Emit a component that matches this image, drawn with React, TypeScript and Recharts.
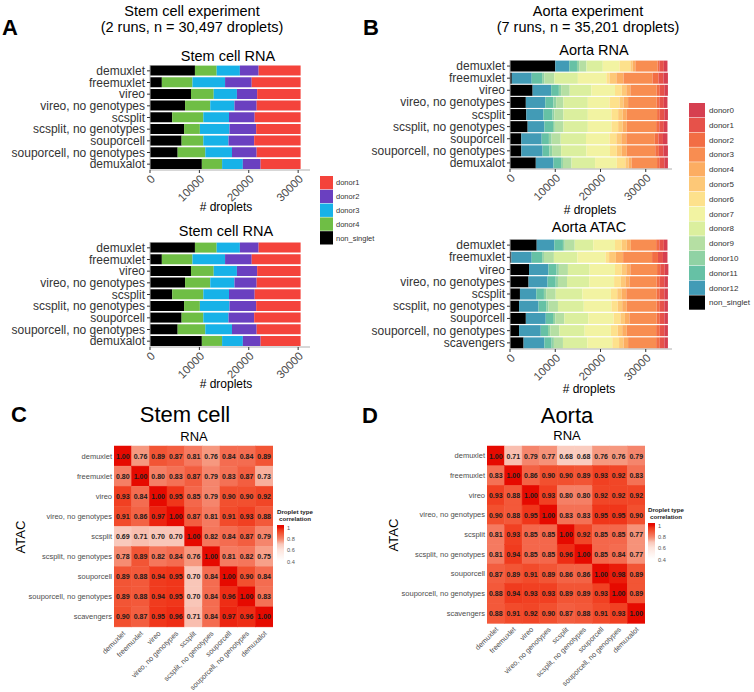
import React from 'react';
import { BarChart, Bar, XAxis, YAxis } from 'recharts';

const FONT = '"Liberation Sans", Arial, Helvetica, sans-serif';

// ---------- Panel A : stem cell experiment ----------
const stemMethods = ['demuxlet', 'freemuxlet', 'vireo', 'vireo, no genotypes', 'scsplit', 'scsplit, no genotypes', 'souporcell', 'souporcell, no genotypes', 'demuxalot'];
const stemNonSinglet = [9100, 2400, 8300, 7100, 4500, 6900, 6400, 5600, 10500];
const stemDonor4 = [4400, 6200, 4600, 5100, 6300, 3200, 4400, 5600, 4100];
const stemDonor3 = [4700, 6600, 4700, 4900, 5200, 6000, 5100, 5400, 4200];
const stemDonor2 = [3800, 5400, 4100, 4500, 5200, 5400, 5200, 5000, 3600];
const stemDonor1 = [8500, 9900, 8800, 8900, 9300, 9000, 9400, 8900, 8100];

// ---------- Panel B : aorta experiment ----------
const aortaRnaMethods = ['demuxlet', 'freemuxlet', 'vireo', 'vireo, no genotypes', 'scsplit', 'scsplit, no genotypes', 'souporcell', 'souporcell, no genotypes', 'demuxalot'];
const aortaAtacMethods = ['demuxlet', 'freemuxlet', 'vireo', 'vireo, no genotypes', 'scsplit', 'scsplit, no genotypes', 'souporcell', 'souporcell, no genotypes', 'scavengers'];

const rnaNonSinglet = [10000, 400, 5000, 3500, 3600, 3900, 2500, 2500, 5700];
const rnaDonor12 = [3100, 4400, 4100, 4300, 3800, 3700, 4500, 4700, 3900];
const rnaDonor11 = [1700, 2300, 1700, 1800, 2000, 1900, 1600, 1500, 1700];
const rnaDonor10 = [500, 500, 500, 600, 400, 400, 600, 600, 400];
const rnaDonor9 = [1600, 2200, 1900, 1600, 2000, 1900, 2000, 2000, 1900];
const rnaDonor8 = [3600, 5200, 4800, 5400, 5400, 5400, 5600, 5600, 5200];
const rnaDonor7 = [3700, 6300, 5200, 4800, 5200, 5200, 5200, 5200, 4800];
const rnaDonor6 = [2400, 700, 1500, 2200, 1500, 1500, 1500, 1500, 1900];
const rnaDonor5 = [500, 1500, 1000, 900, 1000, 1000, 1100, 1100, 700];
const rnaDonor4 = [600, 1600, 900, 1000, 900, 900, 1100, 1100, 700];
const rnaDonor3 = [4900, 6400, 5800, 6300, 6700, 6500, 6300, 6300, 5600];
const rnaDonor2 = [400, 1300, 700, 600, 600, 700, 800, 800, 600];
const rnaDonor1 = [1000, 1100, 1000, 1000, 1000, 1000, 1000, 1000, 1000];
const rnaDonor0 = [800, 1000, 800, 800, 800, 800, 1000, 1000, 800];

const atacNonSinglet = [5900, 300, 4200, 4100, 2200, 2000, 3500, 2000, 3000];
const atacDonor12 = [3900, 4500, 4300, 4200, 3600, 4300, 4400, 4800, 4600];
const atacDonor11 = [1900, 2300, 1800, 1800, 1700, 1700, 1600, 1600, 1600];
const atacDonor10 = [400, 400, 500, 500, 500, 500, 500, 500, 500];
const atacDonor9 = [2200, 2200, 2000, 2000, 2100, 2100, 2000, 2000, 2000];
const atacDonor8 = [4100, 5200, 4800, 4900, 5900, 5700, 5300, 5600, 5400];
const atacDonor7 = [4800, 6200, 5600, 5500, 6300, 6100, 5600, 5800, 5500];
const atacDonor6 = [1500, 800, 1500, 1500, 1400, 1400, 1500, 1500, 1500];
const atacDonor5 = [1100, 1500, 1000, 1000, 1000, 1000, 1000, 1000, 1000];
const atacDonor4 = [900, 1600, 900, 900, 1000, 1000, 1000, 1000, 1000];
const atacDonor3 = [5600, 6400, 5900, 6000, 6700, 6600, 6000, 6500, 6200];
const atacDonor2 = [700, 1300, 700, 700, 700, 700, 700, 800, 800];
const atacDonor1 = [1000, 1100, 1000, 1000, 1000, 1000, 1000, 1000, 1000];
const atacDonor0 = [800, 1000, 800, 800, 800, 800, 800, 800, 800];

const dropletTicks = [0, 10000, 20000, 30000];

// ---------- Panels C / D : correlation heatmaps ----------
const heatRows = ['demuxlet', 'freemuxlet', 'vireo', 'vireo, no genotypes', 'scsplit', 'scsplit, no genotypes', 'souporcell', 'souporcell, no genotypes', 'scavengers'];
const heatCols = ['demuxlet', 'freemuxlet', 'vireo', 'vireo, no genotypes', 'scsplit', 'scsplit, no genotypes', 'souporcell', 'souporcell, no genotypes', 'demuxalot'];
const stemCorr = [
  [1.0, 0.76, 0.89, 0.87, 0.81, 0.76, 0.84, 0.84, 0.89],
  [0.8, 1.0, 0.8, 0.83, 0.87, 0.79, 0.83, 0.87, 0.73],
  [0.93, 0.84, 1.0, 0.95, 0.85, 0.79, 0.9, 0.9, 0.92],
  [0.91, 0.86, 0.97, 1.0, 0.87, 0.81, 0.91, 0.93, 0.88],
  [0.69, 0.71, 0.7, 0.7, 1.0, 0.82, 0.84, 0.87, 0.79],
  [0.78, 0.89, 0.82, 0.84, 0.76, 1.0, 0.81, 0.82, 0.75],
  [0.89, 0.88, 0.94, 0.95, 0.7, 0.84, 1.0, 0.9, 0.84],
  [0.89, 0.88, 0.94, 0.95, 0.7, 0.84, 0.96, 1.0, 0.83],
  [0.9, 0.87, 0.95, 0.96, 0.71, 0.84, 0.97, 0.96, 1.0],
];
const aortaCorr = [
  [1.0, 0.71, 0.79, 0.77, 0.68, 0.68, 0.76, 0.76, 0.79],
  [0.83, 1.0, 0.86, 0.9, 0.9, 0.89, 0.93, 0.92, 0.83],
  [0.93, 0.88, 1.0, 0.93, 0.8, 0.8, 0.92, 0.92, 0.92],
  [0.9, 0.88, 0.95, 1.0, 0.83, 0.83, 0.95, 0.95, 0.9],
  [0.81, 0.93, 0.85, 0.85, 1.0, 0.92, 0.85, 0.85, 0.77],
  [0.81, 0.94, 0.85, 0.85, 0.96, 1.0, 0.85, 0.84, 0.77],
  [0.87, 0.89, 0.91, 0.89, 0.86, 0.86, 1.0, 0.98, 0.89],
  [0.88, 0.94, 0.93, 0.93, 0.89, 0.89, 0.93, 1.0, 0.89],
  [0.88, 0.91, 0.92, 0.9, 0.87, 0.88, 0.91, 0.93, 1.0],
];
const corrLegendTicks = [1, 0.8, 0.6, 0.4];

// ---------- styles ----------
type Series = { key: string; color: string; values: number[] };

const stemSeries: Series[] = [
  { key: 'non_singlet', color: '#000000', values: stemNonSinglet },
  { key: 'donor4', color: '#6fbe45', values: stemDonor4 },
  { key: 'donor3', color: '#17b2e8', values: stemDonor3 },
  { key: 'donor2', color: '#6a40c0', values: stemDonor2 },
  { key: 'donor1', color: '#f4433b', values: stemDonor1 },
];

const aortaColors: Record<string, string> = {
  donor0: '#d63f50', donor1: '#e6524a', donor2: '#f26d44', donor3: '#f88d51', donor4: '#fcad62',
  donor5: '#fdc877', donor6: '#fde18c', donor7: '#f2f3a2', donor8: '#dbef9e', donor9: '#b5dfa3',
  donor10: '#90d2a4', donor11: '#66c1a5', donor12: '#429bb6', non_singlet: '#000000',
};

const rnaSeries: Series[] = [
  { key: 'non_singlet', values: rnaNonSinglet }, { key: 'donor12', values: rnaDonor12 },
  { key: 'donor11', values: rnaDonor11 }, { key: 'donor10', values: rnaDonor10 },
  { key: 'donor9', values: rnaDonor9 }, { key: 'donor8', values: rnaDonor8 },
  { key: 'donor7', values: rnaDonor7 }, { key: 'donor6', values: rnaDonor6 },
  { key: 'donor5', values: rnaDonor5 }, { key: 'donor4', values: rnaDonor4 },
  { key: 'donor3', values: rnaDonor3 }, { key: 'donor2', values: rnaDonor2 },
  { key: 'donor1', values: rnaDonor1 }, { key: 'donor0', values: rnaDonor0 },
].map((s) => ({ ...s, color: aortaColors[s.key] }));

const atacSeries: Series[] = [
  { key: 'non_singlet', values: atacNonSinglet }, { key: 'donor12', values: atacDonor12 },
  { key: 'donor11', values: atacDonor11 }, { key: 'donor10', values: atacDonor10 },
  { key: 'donor9', values: atacDonor9 }, { key: 'donor8', values: atacDonor8 },
  { key: 'donor7', values: atacDonor7 }, { key: 'donor6', values: atacDonor6 },
  { key: 'donor5', values: atacDonor5 }, { key: 'donor4', values: atacDonor4 },
  { key: 'donor3', values: atacDonor3 }, { key: 'donor2', values: atacDonor2 },
  { key: 'donor1', values: atacDonor1 }, { key: 'donor0', values: atacDonor0 },
].map((s) => ({ ...s, color: aortaColors[s.key] }));

const heatStops: [number, number[]][] = [
  [0.4, [255, 255, 255]], [0.6, [253, 228, 220]], [0.7, [249, 198, 184]], [0.76, [246, 152, 127]],
  [0.8, [245, 127, 101]], [0.84, [244, 108, 80]], [0.9, [242, 80, 47]], [0.95, [240, 54, 26]], [1.0, [230, 10, 0]],
];
function heatColor(v: number): string {
  if (v <= heatStops[0][0]) return 'rgb(255,255,255)';
  for (let i = 1; i < heatStops.length; i++) {
    const [v1, c1] = heatStops[i];
    const [v0, c0] = heatStops[i - 1];
    if (v <= v1) {
      const t = (v - v0) / (v1 - v0);
      const c = c0.map((a, k) => Math.round(a + (c1[k] - a) * t));
      return `rgb(${c[0]},${c[1]},${c[2]})`;
    }
  }
  const c = heatStops[heatStops.length - 1][1];
  return `rgb(${c[0]},${c[1]},${c[2]})`;
}

// ---------- components ----------
const DropTick = (props: any) => {
  const { x, y, payload } = props;
  return (
    <g transform={`translate(${x},${y})`}>
      <text transform="rotate(-45)" textAnchor="end" dominantBaseline="hanging" fontSize={11.5} fill="#4d4d4d" fontFamily={FONT}>
        {payload.value}
      </text>
    </g>
  );
};

const CatTick = (props: any) => {
  const { x, y, payload, size, color } = props;
  return (
    <text x={x} y={y} textAnchor="end" dominantBaseline="central" fontSize={size} fill={color} fontFamily={FONT}>
      {payload.value}
    </text>
  );
};

function StackedChart({ methods, series, max, left, top, width, height, yWidth, right }: any) {
  const data = methods.map((m: string, i: number) => {
    const row: any = { method: m };
    series.forEach((s: Series) => { row[s.key] = s.values[i]; });
    return row;
  });
  const border = '#b0b0b0';
  return (
    <div style={{ position: 'absolute', left, top }}>
      <BarChart layout="vertical" width={width} height={height} data={data} margin={{ top: 5, right, bottom: 0, left: 0 }} barCategoryGap={0.6}>
        <XAxis xAxisId="b" type="number" domain={[0, max]} ticks={dropletTicks} interval={0} tick={<DropTick />} tickSize={3} tickMargin={1} tickLine={{ stroke: '#333' }} axisLine={{ stroke: border }} height={36} allowDataOverflow />
        <XAxis xAxisId="t" orientation="top" type="number" domain={[0, max]} tick={false} tickLine={false} axisLine={{ stroke: border }} height={0} allowDataOverflow />
        <YAxis yAxisId="l" type="category" dataKey="method" width={yWidth} interval={0} tick={<CatTick size={12} color="#333" />} tickSize={3} tickMargin={2} tickLine={{ stroke: '#333' }} axisLine={{ stroke: border }} />
        <YAxis yAxisId="r" orientation="right" type="category" dataKey="method" width={0} tick={false} tickLine={false} axisLine={{ stroke: border }} />
        {series.map((s: Series) => (
          <Bar key={s.key} xAxisId="b" yAxisId="l" dataKey={s.key} stackId="s" fill={s.color} isAnimationActive={false} />
        ))}
      </BarChart>
    </div>
  );
}

const ColTick = (props: any) => {
  const { x, y, payload, cols } = props;
  const name = cols[Math.floor(payload.value)];
  return (
    <g transform={`translate(${x - 1},${y})`}>
      <text transform="rotate(-45)" textAnchor="end" dominantBaseline="hanging" fontSize={7.2} fill="#4d4d4d" fontFamily={FONT}>
        {name}
      </text>
    </g>
  );
};

function HeatCell(props: any) {
  const { x, y, width, height, r } = props;
  const fill = heatColor(r);
  return (
    <g>
      <rect x={x} y={y} width={width} height={height} fill={fill} stroke={fill} strokeWidth={0.5} />
      <text x={x + width / 2} y={y + height / 2} textAnchor="middle" dominantBaseline="central" fontSize={7} fontWeight="bold" fill="#1a1a1a" fontFamily={FONT}>
        {r.toFixed(2)}
      </text>
    </g>
  );
}

function HeatChart({ rows, cols, corr, left, top, width, height, yWidth, bottomAxis }: any) {
  const data = rows.map((r: string, i: number) => {
    const o: any = { row: r };
    cols.forEach((_c: string, j: number) => { o['u' + j] = 1; o['r' + j] = corr[i][j]; });
    return o;
  });
  return (
    <div style={{ position: 'absolute', left, top }}>
      <BarChart layout="vertical" width={width} height={height} data={data} margin={{ top: 5, right: 1, bottom: 0, left: 0 }} barCategoryGap={0}>
        <XAxis type="number" domain={[0, cols.length]} ticks={cols.map((_c: string, j: number) => j + 0.5)} interval={0} tick={<ColTick cols={cols} />} tickLine={false} axisLine={false} tickSize={0} tickMargin={3} height={bottomAxis} allowDataOverflow />
        <YAxis type="category" dataKey="row" width={yWidth} interval={0} tick={<CatTick size={7.5} color="#4d4d4d" />} tickLine={false} axisLine={false} tickSize={0} tickMargin={2} />
        {cols.map((_c: string, j: number) => (
          <Bar key={j} dataKey={'u' + j} stackId="h" isAnimationActive={false} shape={(p: any) => <HeatCell {...p} r={p.payload['r' + j]} />} />
        ))}
      </BarChart>
    </div>
  );
}

function CorrLegend({ x, yTop, scale, titleX, titleY, id }: any) {
  const barTop = yTop - 2;
  const barH = (1 - 0.33) * scale + 2;
  const gradStops = [1, 0.95, 0.9, 0.84, 0.8, 0.76, 0.7, 0.6, 0.5, 0.4];
  return (
    <g>
      <defs>
        <linearGradient id={id} x1="0" y1="0" x2="0" y2="1">
          {gradStops.map((v) => (
            <stop key={v} offset={`${((1 - v) * scale + 2) / barH * 100}%`} stopColor={heatColor(v)} />
          ))}
        </linearGradient>
      </defs>
      <text x={titleX} y={titleY} textAnchor="middle" fontSize={6.2} fontWeight="bold" fill="#222">Droplet type</text>
      <text x={titleX} y={titleY + 7} textAnchor="middle" fontSize={6.2} fontWeight="bold" fill="#222">correlation</text>
      <rect x={x} y={barTop} width={7} height={barH} fill={`url(#${id})`} />
      {corrLegendTicks.map((v) => (
        <text key={v} x={x + 10} y={yTop + (1 - v) * scale + 2.5} fontSize={5.6} fill="#555">{String(v)}</text>
      ))}
    </g>
  );
}

export default function App() {
  const stemLegend = ['donor1', 'donor2', 'donor3', 'donor4', 'non_singlet'];
  const stemLegendColors = ['#f4433b', '#6a40c0', '#17b2e8', '#6fbe45', '#000000'];
  const aortaLegend = ['donor0', 'donor1', 'donor2', 'donor3', 'donor4', 'donor5', 'donor6', 'donor7', 'donor8', 'donor9', 'donor10', 'donor11', 'donor12', 'non_singlet'];
  return (
    <div style={{ position: 'absolute', left: 0, top: 0, width: 754, height: 692, background: '#fff', overflow: 'hidden', fontFamily: FONT }}>
      <StackedChart methods={stemMethods} series={stemSeries} max={32400} left={0} top={60} width={312} height={146} yWidth={150} right={2} />
      <StackedChart methods={stemMethods} series={stemSeries} max={32400} left={0} top={237} width={312} height={146} yWidth={150} right={2} />
      <StackedChart methods={aortaRnaMethods} series={rnaSeries} max={35800} left={360} top={55} width={316} height={150} yWidth={150} right={4} />
      <StackedChart methods={aortaAtacMethods} series={atacSeries} max={35800} left={360} top={234} width={316} height={151} yWidth={150} right={4} />
      <HeatChart rows={heatRows} cols={heatCols} corr={stemCorr} left={0} top={441} width={274} height={251} yWidth={114} bottomAxis={65} />
      <HeatChart rows={heatRows} cols={heatCols} corr={aortaCorr} left={370} top={441} width={276} height={251} yWidth={117} bottomAxis={69} />

      <svg width={754} height={692} style={{ position: 'absolute', left: 0, top: 0, pointerEvents: 'none' }} fontFamily={FONT}>
        <text x={2} y={35} fontSize={22} fontWeight="bold">A</text>
        <text x={363} y={35} fontSize={22} fontWeight="bold">B</text>
        <text x={11} y={422} fontSize={22} fontWeight="bold">C</text>
        <text x={362} y={423} fontSize={22} fontWeight="bold">D</text>

        <text x={192} y={16} fontSize={14.5} textAnchor="middle">Stem cell experiment</text>
        <text x={192} y={32} fontSize={14.5} textAnchor="middle">(2 runs, n = 30,497 droplets)</text>
        <text x={228} y={61} fontSize={14.5} textAnchor="middle">Stem cell RNA</text>
        <text x={226} y={211} fontSize={12} textAnchor="middle"># droplets</text>
        <text x={226} y={236} fontSize={14.5} textAnchor="middle">Stem cell RNA</text>
        <text x={226} y={388} fontSize={12} textAnchor="middle"># droplets</text>

        <text x={588} y={16} fontSize={14.5} textAnchor="middle">Aorta experiment</text>
        <text x={588} y={32} fontSize={14.5} textAnchor="middle">(7 runs, n = 35,201 droplets)</text>
        <text x={594} y={55} fontSize={14.5} textAnchor="middle">Aorta RNA</text>
        <text x={590} y={214} fontSize={12} textAnchor="middle"># droplets</text>
        <text x={589} y={232} fontSize={14.5} textAnchor="middle">Aorta ATAC</text>
        <text x={589} y={393} fontSize={12} textAnchor="middle"># droplets</text>

        {stemLegend.map((n, i) => (
          <g key={n}>
            <rect x={320} y={176 + i * 13.8} width={13} height={13.3} fill={stemLegendColors[i]} />
            <text x={336} y={176 + i * 13.8 + 9.3} fontSize={7.5} fill="#333">{n}</text>
          </g>
        ))}

        {aortaLegend.map((n, i) => (
          <g key={n}>
            <rect x={689} y={103 + i * 14.8} width={16} height={14.3} fill={aortaColors[n]} />
            <text x={709} y={103 + i * 14.8 + 10} fontSize={8} fill="#333">{n}</text>
          </g>
        ))}

        <text x={185} y={422} fontSize={22} textAnchor="middle">Stem cell</text>
        <text x={194} y={441} fontSize={13} textAnchor="middle">RNA</text>
        <text transform="translate(25,537) rotate(-90)" fontSize={13} textAnchor="middle">ATAC</text>
        <CorrLegend id="gc" x={277} yTop={527} scale={56.7} titleX={295} titleY={514} />

        <text x={567} y={423} fontSize={22} textAnchor="middle">Aorta</text>
        <text x={567} y={440} fontSize={13} textAnchor="middle">RNA</text>
        <text transform="translate(398,535) rotate(-90)" fontSize={13} textAnchor="middle">ATAC</text>
        <CorrLegend id="gd" x={648} yTop={525} scale={57} titleX={666} titleY={512} />
      </svg>
    </div>
  );
}
